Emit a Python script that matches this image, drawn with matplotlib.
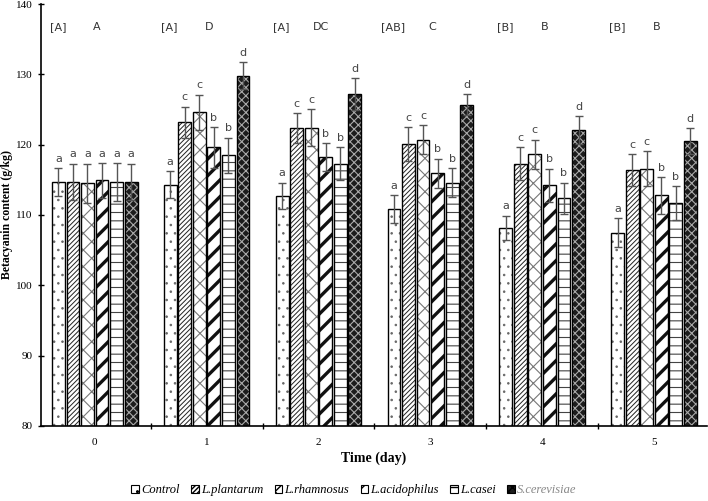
import numpy as np
import matplotlib.pyplot as plt
from matplotlib.patches import Patch

days = [0, 1, 2, 3, 4, 5]
treatments = ['Control', 'L.plantarum', 'L.rhamnosus', 'L.acidophilus', 'L.casei', 'S.cerevisiae']

# betacyanin content (g/kg), one list per treatment over days 0..5
control = [114.7, 114.3, 112.7, 110.8, 108.2, 107.5]
plantarum = [114.7, 123.2, 122.4, 120.1, 117.3, 116.4]
rhamnosus = [114.5, 124.6, 122.4, 120.7, 118.6, 116.6]
acidophilus = [114.9, 119.6, 118.2, 115.9, 114.2, 112.8]
casei = [114.7, 118.5, 117.3, 114.6, 112.4, 111.7]
cerevisiae = [114.7, 129.8, 127.2, 125.7, 122.1, 120.5]
values = [control, plantarum, rhamnosus, acidophilus, casei, cerevisiae]

err_control = [2.0, 1.9, 1.9, 2.0, 1.7, 2.0]
err_plantarum = [2.6, 2.2, 2.1, 2.4, 2.4, 2.3]
err_rhamnosus = [2.8, 2.5, 2.6, 2.1, 2.1, 2.5]
err_acidophilus = [2.5, 2.9, 2.0, 2.1, 2.4, 2.6]
err_casei = [2.7, 2.5, 2.3, 2.1, 2.2, 2.4]
err_cerevisiae = [2.6, 1.9, 2.3, 1.5, 2.0, 1.9]
errors = [err_control, err_plantarum, err_rhamnosus, err_acidophilus, err_casei, err_cerevisiae]

letters = [
    ['a', 'a', 'a', 'a', 'a', 'a'],
    ['a', 'c', 'c', 'b', 'b', 'd'],
    ['a', 'c', 'c', 'b', 'b', 'd'],
    ['a', 'c', 'c', 'b', 'b', 'd'],
    ['a', 'c', 'c', 'b', 'b', 'd'],
    ['a', 'c', 'c', 'b', 'b', 'd'],
]
group_left = ['[A]', '[A]', '[A]', '[AB]', '[B]', '[B]']
group_right = ['A', 'D', 'DC', 'C', 'B', 'B']

# style per treatment: face colour, hatch colour, hatch, hatch linewidth
styles = [
    ('white', '#666666', '..', 0.6),
    ('white', '#222222', '///////', 0.7),
    ('white', '#777777', 'xx', 0.8),
    ('white', '#111111', '//', 2.4),
    ('white', '#444444', '--', 0.8),
    ('#1c1c1c', '#aaaaaa', 'xxxx', 0.8),
]

fig = plt.figure(figsize=(7.08, 5.01), dpi=100)
ax = fig.add_axes([0.058, 0.15, 0.94, 0.842])

x = np.arange(len(days))
slot = 0.13
width = 0.115

for j, (vals, errs) in enumerate(zip(values, errors)):
    face, hcol, hatch, hlw = styles[j]
    pos = x + (j - 2.5) * slot
    bars = ax.bar(pos, vals, width, bottom=0, color=face, edgecolor=hcol,
                  hatch=hatch, linewidth=0, zorder=2)
    for b in bars:
        if hasattr(b, 'set_hatch_linewidth'):
            b.set_hatch_linewidth(hlw)
    ax.bar(pos, vals, width, fill=False, edgecolor='black', linewidth=1.0, zorder=3)
    ax.errorbar(pos, vals, yerr=errs, fmt='none', ecolor='#555555',
                elinewidth=1, capsize=3, capthick=1, zorder=4)
    for i in range(len(days)):
        ax.text(pos[i], vals[i] + errs[i] + 0.6, letters[i][j], ha='center', va='bottom',
                fontsize=8, color='#444444', family='DejaVu Sans')

for i in range(len(days)):
    ax.text(x[i] - 0.33, 136.7, group_left[i], ha='center', va='center',
            fontsize=8, color='#333333', family='DejaVu Sans')
    ax.text(x[i] + 0.02, 136.7, group_right[i], ha='center', va='center',
            fontsize=8, color='#333333', family='DejaVu Sans')

ax.set_ylim(80, 140)
ax.set_xlim(-0.48, 5.47)
ax.set_yticks(range(80, 141, 10))
ax.set_xticks(x)
ax.set_xticklabels([str(d) for d in days], family='Liberation Serif', fontsize=8)
ax.set_xticks(np.arange(0.5, 5.0, 1.0), minor=True)
ax.tick_params(axis='x', which='major', length=0, pad=9)
ax.tick_params(axis='x', which='minor', length=5, direction='inout', width=1)
ax.tick_params(axis='y', length=5, direction='inout', width=1, labelsize=8)
for lab in ax.get_yticklabels():
    lab.set_family('Liberation Serif')

ax.spines['top'].set_visible(False)
ax.spines['right'].set_visible(False)
ax.spines['left'].set_linewidth(1.2)
ax.spines['bottom'].set_linewidth(1.2)

ax.set_ylabel('Betacyanin content (g/kg)', family='Liberation Serif', fontweight='bold', fontsize=8.5)
ax.yaxis.set_label_coords(-0.042, 0.5)
ax.set_xlabel('Time (day)', family='Liberation Serif', fontweight='bold', fontsize=10, labelpad=3)

handles = []
for j in range(len(treatments)):
    face, hcol, hatch, hlw = styles[j]
    handles.append(Patch(facecolor=face, edgecolor='black', hatch=hatch, linewidth=0.8))
leg = fig.legend(handles, treatments, loc='center', bbox_to_anchor=(0.5, 0.022), ncol=6,
                 frameon=False, handlelength=0.6, handleheight=0.6, handletextpad=0.2,
                 columnspacing=0.9, prop={'family': 'Liberation Serif', 'style': 'italic', 'size': 9})
leg.get_texts()[-1].set_color('#888888')

fig.savefig('out.png', dpi=100)
